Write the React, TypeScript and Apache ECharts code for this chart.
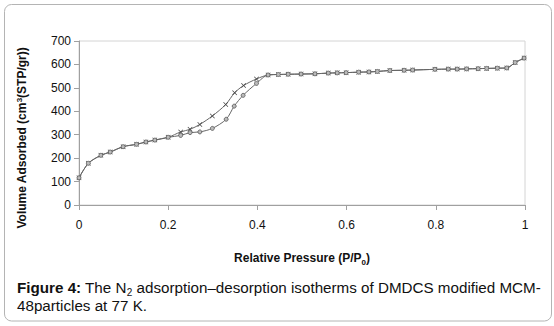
import React, { useEffect, useRef } from "react";
import * as echarts from "echarts";

const plateauP = [0.424, 0.447, 0.469, 0.498, 0.529, 0.559, 0.579, 0.599, 0.627, 0.65, 0.669, 0.697, 0.729, 0.748, 0.798, 0.828, 0.848, 0.869, 0.895, 0.914, 0.938, 0.959, 0.978, 0.998];
const plateauV = [555, 557, 558, 559, 560, 563, 564, 565, 567, 568, 570, 574, 575, 576, 579, 580, 580, 581, 582, 583, 584, 585, 608, 627];

const lowP = [0, 0.021, 0.049, 0.07, 0.099, 0.129, 0.15, 0.17, 0.2];
const lowV = [116, 178, 212, 226, 249, 259, 269, 277, 289];

const adsP = [0.228, 0.249, 0.271, 0.299, 0.33, 0.348, 0.368, 0.398];
const adsV = [297, 309, 312, 327, 366, 422, 468, 519];

const desP = [0.228, 0.249, 0.271, 0.299, 0.329, 0.349, 0.369, 0.398];
const desV = [312, 323, 344, 380, 429, 479, 510, 538];

const xTicks = [0, 0.2, 0.4, 0.6, 0.8, 1];

const xSymbol = "path://M0,1L1,0L5,4L9,0L10,1L6,5L10,9L9,10L5,6L1,10L0,9L4,5Z";

export default function App() {
  const ref = useRef<HTMLDivElement>(null);
  useEffect(() => {
    if (!ref.current) return;
    const chart = echarts.init(ref.current, undefined, { renderer: "svg" });
    const toPairs = (p: number[], v: number[]) => p.map((x, i) => [x, v[i]]);
    const adsData = [...toPairs(lowP, lowV), ...toPairs(adsP, adsV), ...toPairs(plateauP, plateauV)];
    const desData = [...toPairs(lowP, lowV), ...toPairs(desP, desV), ...toPairs(plateauP, plateauV)];
    const font = "Arial, 'Liberation Sans', sans-serif";
    chart.setOption({
      animation: false,
      backgroundColor: "#fff",
      grid: {
        left: 79,
        right: 29,
        top: 41,
        bottom: 121,
        show: true,
        borderColor: "#d4d4d4",
        borderWidth: 1,
      },
      xAxis: {
        type: "value",
        min: 0,
        max: 1,
        interval: 0.2,
        axisLine: { show: true, lineStyle: { color: "#a0a0a0" } },
        axisTick: { show: true, length: 5, lineStyle: { color: "#a0a0a0" } },
        splitLine: { show: false },
        axisLabel: {
          color: "#111",
          fontFamily: font,
          fontSize: 12,
          margin: 14,
          formatter: (v: number) => {
            const t = xTicks.find((x) => Math.abs(x - v) < 1e-6);
            return t === undefined ? "" : String(t);
          },
        },
        name: "{a|Relative Pressure (P/P}{s|0}{a|)}",
        nameLocation: "middle",
        nameGap: 45,
        nameTextStyle: {
          rich: {
            a: { fontFamily: font, fontSize: 12, fontWeight: "bold", color: "#111" },
            s: { fontFamily: font, fontSize: 8, fontWeight: "bold", color: "#111", verticalAlign: "bottom", padding: [8, 0, 0, 0] },
          },
        },
      },
      yAxis: {
        type: "value",
        min: 0,
        max: 700,
        interval: 100,
        axisLine: { show: true, lineStyle: { color: "#a0a0a0" } },
        axisTick: { show: true, length: 5, lineStyle: { color: "#a0a0a0" } },
        splitLine: { show: false },
        axisLabel: { color: "#111", fontFamily: font, fontSize: 12, margin: 8 },
      },
      series: [
        {
          name: "Desorption",
          type: "line",
          data: desData,
          smooth: 0.3,
          symbol: xSymbol,
          symbolSize: 5,
          lineStyle: { color: "#666", width: 1 },
          itemStyle: { color: "#444" },
          z: 2,
        },
        {
          name: "Adsorption",
          type: "line",
          data: adsData,
          smooth: 0.3,
          symbol: "circle",
          symbolSize: 4,
          lineStyle: { color: "#666", width: 1 },
          itemStyle: { color: "#bbb", borderColor: "#555", borderWidth: 0.8 },
          z: 3,
        },
      ],
      graphic: [
        {
          type: "rect",
          shape: { x: 4.5, y: 4.5, width: 547, height: 316.5, r: 7 },
          style: { fill: "none", stroke: "#b4b4b4", lineWidth: 1 },
          silent: true,
        },
        {
          type: "text",
          x: 22,
          y: 138,
          rotation: Math.PI / 2,
          style: {
            text: "{a|Volume Adsorbed (cm}{s|3}{a|(STP/gr))}",
            align: "center",
            verticalAlign: "middle",
            rich: {
              a: { fontFamily: font, fontSize: 12, fontWeight: "bold", fill: "#111" },
              s: { fontFamily: font, fontSize: 8, fontWeight: "bold", fill: "#111", verticalAlign: "top", padding: [0, 0, 6, 0] },
            },
          },
        },
        {
          type: "text",
          left: 17,
          top: 280,
          style: {
            text: "{b|Figure 4:}{n| The N}{s|2}{n| adsorption–desorption isotherms of DMDCS modified MCM-}",
            rich: {
              b: { fontFamily: font, fontSize: 15.2, fontWeight: "bold", fill: "#111" },
              n: { fontFamily: font, fontSize: 15.2, fill: "#111" },
              s: { fontFamily: font, fontSize: 10, fill: "#111", verticalAlign: "bottom", padding: [10, 0, 0, 0] },
            },
          },
        },
        {
          type: "text",
          left: 17,
          top: 298,
          style: {
            text: "48particles at 77 K.",
            fontFamily: font,
            fontSize: 15.2,
            fill: "#111",
          },
        },
      ],
    });
    return () => chart.dispose();
  }, []);
  return <div ref={ref} style={{ width: 554, height: 326, position: "fixed", left: 0, top: 0 }} />;
}
